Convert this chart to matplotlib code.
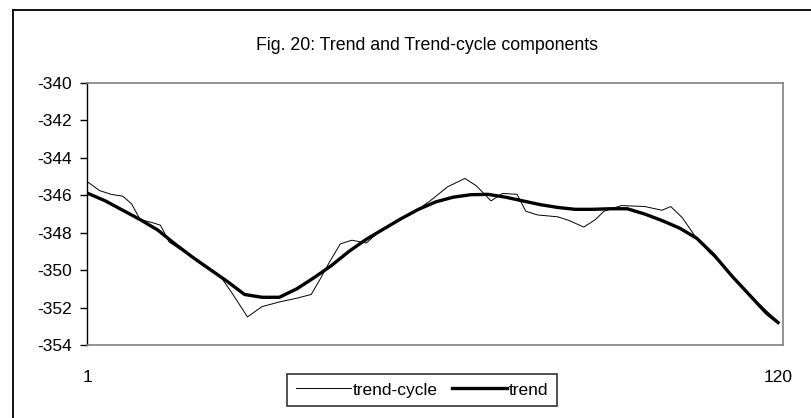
import matplotlib
matplotlib.use("Agg")
import matplotlib.pyplot as plt
from matplotlib.lines import Line2D

plt.rcParams["font.family"] = ["Liberation Sans", "DejaVu Sans"]

# trend (thick, smooth), read every 3 periods
trend_x = [1, 4, 7, 10, 13, 16, 19, 22, 25, 28, 31, 34, 37, 40, 43, 46, 49,
           52, 55, 58, 61, 64, 67, 70, 73, 76, 79, 82, 85, 88, 91, 94, 97,
           100, 103, 106, 109, 112, 115, 118, 120]
trend_y = [-345.9, -346.3, -346.8, -347.3, -347.85, -348.6, -349.3, -349.95,
           -350.6, -351.3, -351.45, -351.45, -351.0, -350.4, -349.75, -349.0,
           -348.35, -347.8, -347.25, -346.75, -346.35, -346.1, -345.97,
           -345.95, -346.1, -346.3, -346.5, -346.65, -346.75, -346.75,
           -346.72, -346.72, -347.0, -347.35, -347.75, -348.3, -349.2,
           -350.3, -351.3, -352.3, -352.8]

# trend-cycle (thin, wiggly)
cycle_x = [1, 3, 5, 7, 8.5, 10, 12, 13.5, 15, 18, 21, 24, 26, 28.5, 31, 34,
           37, 39.5, 41, 42.5, 44.5, 46.5, 49, 51, 54, 57, 60, 63, 66, 68,
           70.5, 72.5, 75, 76.5, 78.5, 82, 84, 86.5, 88.5, 90, 93, 97, 100,
           101.5, 103.5, 105.5, 108, 111, 113, 116, 120]
cycle_y = [-345.3, -345.75, -345.95, -346.05, -346.45, -347.3, -347.45,
           -347.6, -348.5, -349.1, -349.8, -350.4, -351.3, -352.5, -351.95,
           -351.7, -351.5, -351.3, -350.5, -349.65, -348.6, -348.4, -348.55,
           -348.0, -347.4, -346.95, -346.3, -345.55, -345.1, -345.5, -346.3,
           -345.9, -345.95, -346.85, -347.05, -347.15, -347.35, -347.7,
           -347.3, -346.85, -346.55, -346.6, -346.8, -346.6, -347.2, -348.1,
           -349.0, -349.9, -350.6, -351.6, -352.75]

y_ticks = list(range(-354, -339, 2))
x_labels = ["1", "120"]

fig = plt.figure(figsize=(8.11, 4.18), dpi=100)
ax = fig.add_axes([87 / 811, 1 - 345 / 418, 696 / 811, 262 / 418])

# outer chart border: only the left and top edges fall inside the picture
bx, by = 12.5 / 811, 1 - 10 / 418
fig.lines.append(Line2D([bx, bx], [0, by], transform=fig.transFigure,
                        color="black", linewidth=1.3))
fig.lines.append(Line2D([bx, 1], [by, by], transform=fig.transFigure,
                        color="black", linewidth=1.3))

ax.plot(cycle_x, cycle_y, color="black", linewidth=0.7, label="trend-cycle")
ax.plot(trend_x, trend_y, color="black", linewidth=2.4, label="trend")

ax.set_xlim(0.83, 120.86)
ax.set_ylim(-354, -340)
ax.set_yticks(y_ticks)
ax.set_yticklabels([str(v) for v in y_ticks], fontsize=12.5)
ax.set_xticks([1, 120])
ax.set_xticklabels(x_labels, fontsize=12.5)
ax.tick_params(axis="x", length=0, pad=18)
ax.tick_params(axis="y", length=5, width=1, direction="out", pad=6)

for side in ["top", "right", "bottom"]:
    ax.spines[side].set_color("#808080")
    ax.spines[side].set_linewidth(1.2)
ax.spines["left"].set_color("black")
ax.spines["left"].set_linewidth(1)

fig.text(427 / 811, 1 - 45 / 418,
         "Fig. 20: Trend and Trend-cycle components",
         ha="center", va="center", fontsize=12.8)

leg = fig.legend(loc="center", bbox_to_anchor=(422 / 811, 1 - 390 / 418),
                 ncol=2, fontsize=12.5, frameon=True, fancybox=False,
                 handlelength=3.2, handletextpad=0.1, columnspacing=0.8,
                 borderpad=0.5, borderaxespad=0)
leg.get_frame().set_edgecolor("black")
leg.get_frame().set_linewidth(1.2)

fig.savefig("out.png", dpi=100)
